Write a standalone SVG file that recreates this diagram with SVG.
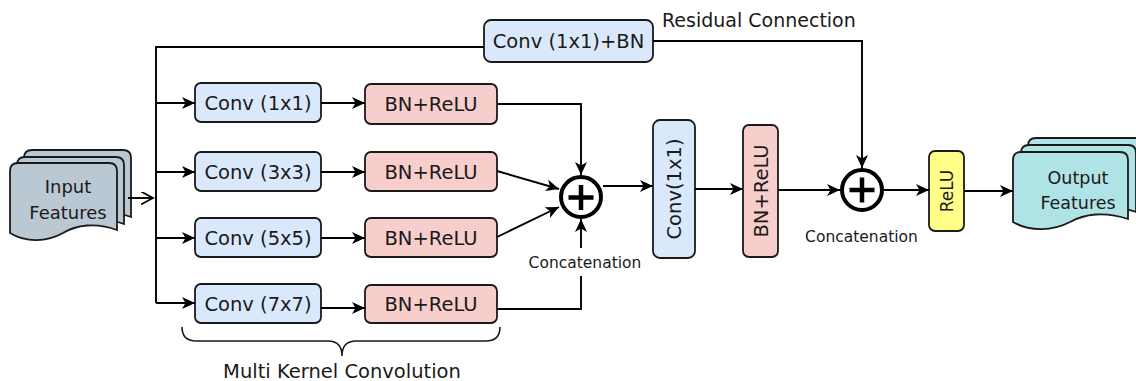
<svg xmlns="http://www.w3.org/2000/svg" width="1136" height="381" viewBox="0 0 1136 381">
<style>
text{font-family:"DejaVu Sans","Liberation Sans",sans-serif;fill:#1a1a1a}
.lbl{font-size:19.5px;text-anchor:middle}
.small{font-size:15.5px;text-anchor:middle}
.box{stroke:#1a1a1a;stroke-width:1.8}
.blue{fill:#dae8fc}
.red{fill:#f8cecc}
.yel{fill:#ffff88}
.conn path{fill:none;stroke:#000;stroke-width:1.9}
.doc{stroke:#1a1a1a;stroke-width:1.8}
.circ{fill:#fff;stroke:#000;stroke-width:4}
.plus{stroke:#000;stroke-width:4.5;fill:none}
</style>
<defs>
<marker id="ah" markerUnits="userSpaceOnUse" markerWidth="15" markerHeight="13" refX="13" refY="6" orient="auto">
<path d="M0,0 L13,6 L0,12 L3.5,6 Z" fill="#000"/>
</marker>
<marker id="open" markerUnits="userSpaceOnUse" markerWidth="14" markerHeight="14" refX="12" refY="6.5" orient="auto">
<path d="M0,0 L12,6.5 L0,13" fill="none" stroke="#000" stroke-width="1.8"/>
</marker>
<path id="docIn" d="M0,8 Q0,0 8,0 H99 Q107,0 107,8 V67 C86,59 66,62 53,70 C37,79 16,80 0,70 Z"/>
<path id="docOut" d="M0,8 Q0,0 8,0 H107 Q115,0 115,8 V67 C92,59 71,62 57,70 C40,79 17,80 0,70 Z"/>
</defs>

<g id="input-features">
<use href="#docIn" x="24" y="150" fill="#bac8d3" class="doc"/>
<use href="#docIn" x="17" y="157" fill="#bac8d3" class="doc"/>
<use href="#docIn" x="10" y="163" fill="#bac8d3" class="doc"/>
<text x="68" y="193" style="font-size:18px;text-anchor:middle">Input</text>
<text x="68" y="219" style="font-size:18px;text-anchor:middle">Features</text>
</g>

<g id="conv-1x1-bn">
<rect x="484" y="20" width="169" height="42" rx="7" class="box blue"/>
<text x="568.5" y="48" class="lbl">Conv (1x1)+BN</text>
</g>
<text id="residual-label" x="662" y="27" style="font-size:19px">Residual Connection</text>

<g id="conv1">
<rect x="195" y="83" width="126" height="39" rx="6" class="box blue"/>
<text x="258" y="109.5" class="lbl">Conv (1x1)</text>
</g>
<g id="conv3">
<rect x="195" y="152" width="126" height="39" rx="6" class="box blue"/>
<text x="258" y="178.5" class="lbl">Conv (3x3)</text>
</g>
<g id="conv5">
<rect x="195" y="218" width="126" height="39" rx="6" class="box blue"/>
<text x="258" y="244.5" class="lbl">Conv (5x5)</text>
</g>
<g id="conv7">
<rect x="195" y="284" width="126" height="39" rx="6" class="box blue"/>
<text x="258" y="310.5" class="lbl">Conv (7x7)</text>
</g>

<g id="bn1">
<rect x="365" y="84" width="132" height="40" rx="6" class="box red"/>
<text x="431" y="111" class="lbl">BN+ReLU</text>
</g>
<g id="bn3">
<rect x="365" y="152" width="132" height="39" rx="6" class="box red"/>
<text x="431" y="178.5" class="lbl">BN+ReLU</text>
</g>
<g id="bn5">
<rect x="365" y="218" width="132" height="39" rx="6" class="box red"/>
<text x="431" y="244.5" class="lbl">BN+ReLU</text>
</g>
<g id="bn7">
<rect x="365" y="285" width="132" height="38" rx="6" class="box red"/>
<text x="431" y="311" class="lbl">BN+ReLU</text>
</g>

<g id="concat1">
<circle cx="581" cy="197" r="20" class="circ"/>
<path d="M568.5,197.5 H593.5 M581,185 V210" class="plus"/>
</g>
<text id="concat1-label" x="585" y="268" class="small">Concatenation</text>

<g id="conv-vert">
<rect x="653" y="120" width="42" height="138" rx="7" class="box blue"/>
<text transform="translate(681,189) rotate(-90)" class="lbl">Conv(1x1)</text>
</g>
<g id="bn-vert">
<rect x="743" y="125" width="35" height="132" rx="6" class="box red"/>
<text transform="translate(767.5,191) rotate(-90)" class="lbl">BN+ReLU</text>
</g>

<g id="concat2">
<circle cx="862" cy="190" r="20" class="circ"/>
<path d="M849.5,190 H874.5 M862,177.5 V202.5" class="plus"/>
</g>
<text id="concat2-label" x="861.5" y="242" class="small">Concatenation</text>

<g id="relu">
<rect x="929" y="151" width="35" height="80" rx="6" class="box yel"/>
<text transform="translate(952.5,191) rotate(-90)" style="font-size:17px;text-anchor:middle">ReLU</text>
</g>

<g id="output-features">
<use href="#docOut" x="1028" y="138" fill="#b0e3e6" class="doc"/>
<use href="#docOut" x="1021" y="145" fill="#b0e3e6" class="doc"/>
<use href="#docOut" x="1013" y="152" fill="#b0e3e6" class="doc"/>
<text x="1078" y="184" style="font-size:17.5px;text-anchor:middle">Output</text>
<text x="1078" y="209" style="font-size:17.5px;text-anchor:middle">Features</text>
</g>

<g id="brace">
<path d="M182,327 Q182,341 196,341 L328,341 Q342,341 342,356 Q342,341 356,341 L486,341 Q500,341 500,327" fill="none" stroke="#1a1a1a" stroke-width="1.6"/>
<text x="342" y="378" class="lbl">Multi Kernel Convolution</text>
</g>

<g id="connectors" class="conn">
<path d="M128,198 H153" marker-end="url(#open)"/>
<path d="M156,303 V47 H484"/>
<path d="M156,103 H195" marker-end="url(#ah)"/>
<path d="M156,172 H195" marker-end="url(#ah)"/>
<path d="M156,238 H195" marker-end="url(#ah)"/>
<path d="M156,303 H195" marker-end="url(#ah)"/>
<path d="M321,103 H365" marker-end="url(#ah)"/>
<path d="M321,172 H365" marker-end="url(#ah)"/>
<path d="M321,238 H365" marker-end="url(#ah)"/>
<path d="M321,308 H365" marker-end="url(#ah)"/>
<path d="M497,104 H581 V175" marker-end="url(#ah)"/>
<path d="M497,171 L559,189" marker-end="url(#ah)"/>
<path d="M497,237 L559,207" marker-end="url(#ah)"/>
<path d="M497,309 H581 V276"/>
<path d="M581,248 V219" marker-end="url(#ah)"/>
<path d="M603,186 H653" marker-end="url(#ah)"/>
<path d="M695,189 H743" marker-end="url(#ah)"/>
<path d="M778,190 H840" marker-end="url(#ah)"/>
<path d="M653,41 H862 V168" marker-end="url(#ah)"/>
<path d="M884,190 H929" marker-end="url(#ah)"/>
<path d="M964,191 H1013" marker-end="url(#ah)"/>
</g>
</svg>
